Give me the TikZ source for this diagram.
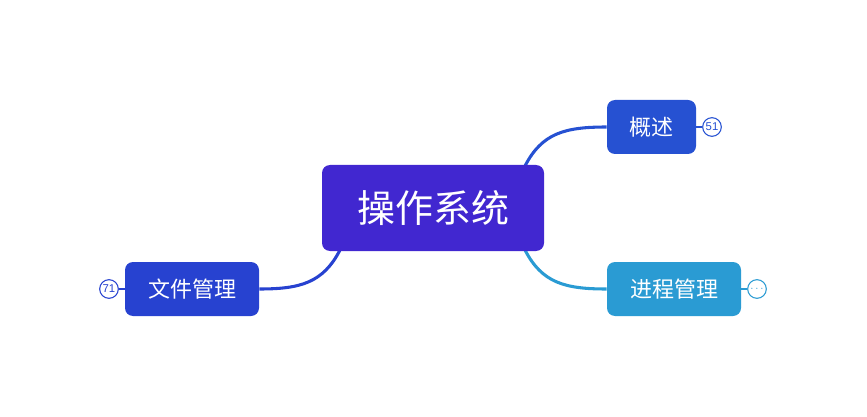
\documentclass[tikz,border=0pt]{standalone}
\usepackage{fontspec}
\setmainfont{Noto Sans CJK SC}
\newfontfamily\numfont{Liberation Sans}
\definecolor{rootc}{HTML}{4127D0}
\definecolor{c1}{HTML}{2651D2}
\definecolor{c2}{HTML}{2A9BD3}
\definecolor{c3}{HTML}{2742D0}
\begin{document}
\begin{tikzpicture}[x=0.75pt,y=-0.75pt,
  box/.style={rounded corners=6pt, text=white, inner sep=0pt, anchor=center},
  kid/.style={box, minimum height=54*0.75pt, font=\fontsize{16.5}{19}\selectfont},
  link/.style={line width=2.3pt},
  badge/.style={circle, draw, fill=white, line width=0.8pt, minimum size=14pt, inner sep=0pt, font=\numfont\fontsize{8.5}{8.5}\selectfont}]
\useasboundingbox (0,0) rectangle (867,417);
\coordinate (r1) at (525,166);
\coordinate (r2) at (525,250);
\coordinate (r3) at (340,250);
\node[kid, fill=c1, minimum width=89*0.75pt] (a) at (651.5,127) {概述};
\node[kid, fill=c2, minimum width=134*0.75pt] (b) at (674,289) {进程管理};
\node[kid, fill=c3, minimum width=134*0.75pt] (c) at (192,289) {文件管理};
\draw[link, c1] (r1) .. controls (542,133) and (565,127) .. (a.west);
\draw[link, c2] (r2) .. controls (542,283) and (565,289) .. (b.west);
\draw[link, c3] (r3) .. controls (323,283) and (300,289) .. (c.east);
\node[box, fill=rootc, minimum width=222*0.75pt, minimum height=86*0.75pt, font=\fontsize{28.5}{32}\selectfont] (root) at (433,208) {操作系统};
\node[badge, draw=c1, text=c1] (na) at (712,127) {51};
\node[badge, draw=c2, text=c2] (nb) at (757,289) {$\cdots$};
\node[badge, draw=c3, text=c3] (nc) at (109,289) {71};
\draw[c1, line width=1.5pt] (a.east) -- (na.west);
\draw[c2, line width=1.5pt] (b.east) -- (nb.west);
\draw[c3, line width=1.5pt] (c.west) -- (nc.east);
\end{tikzpicture}
\end{document}
